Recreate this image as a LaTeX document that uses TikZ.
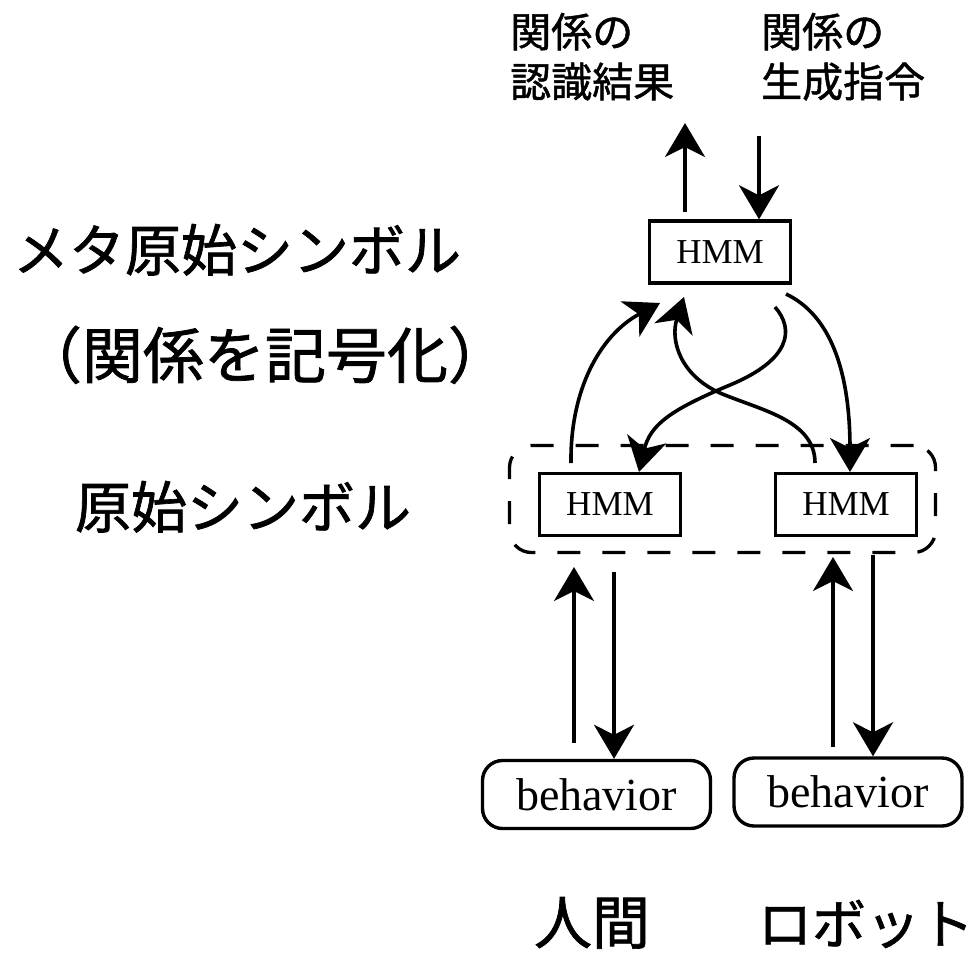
\documentclass[tikz,border=0pt]{standalone}
\usepackage{fontspec}
\setmainfont{Liberation Serif}
\newfontfamily\jp[FakeBold=1.2]{Noto Sans CJK JP}
\usetikzlibrary{arrows.meta}
\begin{document}
\begin{tikzpicture}[x=1pt,y=-1pt,
  arr/.style={line width=3.6pt,-{Stealth[length=34pt,width=40pt,inset=10pt]}},
  hmm/.style={draw,line width=3.4pt,minimum width=141pt,minimum height=62pt,inner sep=0pt,font=\fontsize{35}{36}\selectfont},
  beh/.style={draw,line width=3.4pt,rounded corners=20pt,minimum width=228pt,minimum height=68pt,inner sep=0pt,font=\fontsize{46}{48}\selectfont},
  grpbox/.style={draw,line width=3.3pt,rounded corners=22pt,dash pattern=on 23pt off 22pt,minimum width=426pt,minimum height=107pt,inner sep=0pt},
  jlab/.style={anchor=base,inner sep=0pt,font=\jp\fontsize{56}{60}\selectfont},
  jtop/.style={anchor=base west,inner sep=0pt,font=\jp\fontsize{41}{44}\selectfont},
]
\useasboundingbox (0,0) rectangle (974,954);

% labels
\node[jtop] (ra) at (510,47) {関係の};
\node[jtop] (rb) at (510,97) {認識結果};
\node[jtop] (ga) at (761,47) {関係の};
\node[jtop] (gb) at (761,97) {生成指令};
\node[jlab] (mlab1) at (237,271) {メタ原始シンボル};
\node[jlab,font=\jp\fontsize{61}{64}\selectfont] (mlab2) at (265,378) {（関係を記号化）};
\node[jlab] (plab) at (243,528) {原始シンボル};
\node[jlab,font=\jp\fontsize{58}{60}\selectfont] (hum) at (592,944) {人間};
\node[jlab,font=\jp\fontsize{54}{58}\selectfont] (rob) at (866,944) {ロボット};

% boxes
\node[grpbox] (grp) at (722.5,499) {};
\node[hmm] (meta) at (720,252) {HMM};
\node[hmm] (hl) at (610,504.5) {HMM};
\node[hmm] (hr) at (846,504.5) {HMM};
\node[beh] (bl) at (596.5,794.5) {behavior};
\node[beh] (br) at (848,792) {behavior};

% top arrows
\coordinate (recS) at (685,212);
\coordinate (recE) at (685,123);
\coordinate (genS) at (759,136);
\draw[arr] (recS) -- (recE);
\draw[arr] (genS) -- (genS |- meta.north);

% curved arrows
\coordinate (c1s) at (571,463);
\coordinate (c1e) at (660,303);
\draw[arr] (c1s) .. controls (570,390) and (600,335) .. (c1e);
\coordinate (c2s) at (815,463);
\coordinate (c2e) at (684,297);
\draw[arr] (c2s) .. controls (815,420) and (760,410) .. (720,393) .. controls (680,375) and (670,340) .. (c2e);
\coordinate (c3s) at (775,307);
\coordinate (c3e) at (639,472);
\draw[arr] (c3s) .. controls (795,330) and (790,360) .. (730,385) .. controls (670,410) and (650,425) .. (c3e);
\coordinate (c4s) at (786,294);
\coordinate (c4e) at (850,472);
\draw[arr] (c4s) .. controls (830,315) and (850,370) .. (c4e);

% bottom arrows
\coordinate (luS) at (574,743);
\coordinate (luE) at (574,567);
\coordinate (ldS) at (614,572);
\draw[arr] (luS) -- (luE);
\draw[arr] (ldS) -- (ldS |- bl.north);
\coordinate (ruS) at (833,747);
\coordinate (ruE) at (833,557);
\coordinate (rdS) at (873,555);
\draw[arr] (ruS) -- (ruE);
\draw[arr] (rdS) -- (rdS |- br.north);
\end{tikzpicture}
\end{document}
